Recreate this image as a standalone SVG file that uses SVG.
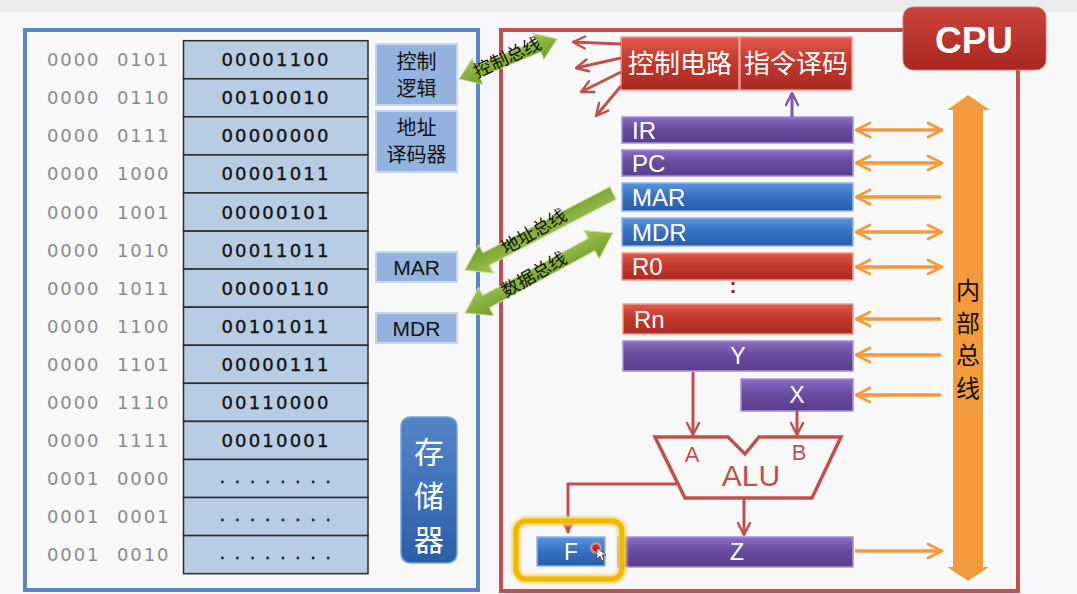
<svg xmlns="http://www.w3.org/2000/svg" width="1077" height="594" viewBox="0 0 1077 594">
  <defs>
    <style>
      .addr { font-family: "DejaVu Sans", sans-serif; font-size: 18px; fill: #8a8a8a; letter-spacing: 1.9px; }
      .val { font-family: "DejaVu Sans", sans-serif; font-size: 18px; fill: #111; stroke: #111; stroke-width: 0.35px; letter-spacing: 2.2px; text-anchor: middle; }
      .dots { font-family: "DejaVu Sans", sans-serif; font-size: 18px; fill: #111; stroke: #111; stroke-width: 0.3px; letter-spacing: 9.4px; text-anchor: middle; }
      .cell { fill: #b8cce4; stroke: #2a2a2a; stroke-width: 1.5; }
      .mbox { fill: #93b3de; stroke: #c3d6f0; stroke-width: 2; }
      .mtxt { font-family: "Liberation Sans", "Noto Sans CJK SC", sans-serif; font-size: 21px; fill: #111; text-anchor: middle; }
      .cjk { font-family: "Noto Sans CJK SC", sans-serif; font-size: 20px; }
      .reg { font-family: "Liberation Sans", sans-serif; font-size: 24px; fill: #fff; }
      .regc { font-family: "Liberation Sans", sans-serif; font-size: 23px; fill: #fff; text-anchor: middle; }
      .purple { fill: url(#gPurple); stroke: #a48fd6; stroke-width: 1.5; }
      .blue { fill: url(#gBlue); stroke: #8fb6ea; stroke-width: 1.5; }
      .red { fill: url(#gRed); stroke: #ec9a92; stroke-width: 1.5; }
      .green { fill: url(#gGreen); stroke: #c9df9c; stroke-width: 1; }
      .gtxt { font-family: "Noto Sans CJK SC", sans-serif; font-size: 18px; fill: #111; text-anchor: middle; }
      .obus { stroke: #f29a3c; stroke-width: 3.5; fill: none; }
      .rline { stroke: #c0504d; stroke-width: 3; fill: none; }
      .pline { stroke: #7a5aa8; stroke-width: 3; fill: none; }
      .vchar { font-family: "Noto Sans CJK SC", sans-serif; text-anchor: middle; }
    </style>
    <linearGradient id="gPurple" x1="0" y1="0" x2="0" y2="1">
      <stop offset="0" stop-color="#8b6fc4"/>
      <stop offset="0.45" stop-color="#6a4c9f"/>
      <stop offset="1" stop-color="#5a3d8d"/>
    </linearGradient>
    <linearGradient id="gBlue" x1="0" y1="0" x2="0" y2="1">
      <stop offset="0" stop-color="#5a95dc"/>
      <stop offset="0.45" stop-color="#3873c2"/>
      <stop offset="1" stop-color="#2a5ca8"/>
    </linearGradient>
    <linearGradient id="gRed" x1="0" y1="0" x2="0" y2="1">
      <stop offset="0" stop-color="#e0594b"/>
      <stop offset="0.45" stop-color="#c23a2e"/>
      <stop offset="1" stop-color="#a82a22"/>
    </linearGradient>
    <linearGradient id="gDarkRed" x1="0" y1="0" x2="0" y2="1">
      <stop offset="0" stop-color="#c9433a"/>
      <stop offset="1" stop-color="#a82822"/>
    </linearGradient>
    <linearGradient id="gStore" x1="0" y1="0" x2="0" y2="1">
      <stop offset="0" stop-color="#5386c8"/>
      <stop offset="1" stop-color="#2c5ea8"/>
    </linearGradient>
    <linearGradient id="gGreen" x1="0" y1="0" x2="0" y2="1">
      <stop offset="0" stop-color="#a2c653"/>
      <stop offset="1" stop-color="#6c9a2a"/>
    </linearGradient>
    <marker id="mOrange" viewBox="0 0 10 10" refX="9" refY="5" markerWidth="5" markerHeight="5" orient="auto-start-reverse" markerUnits="strokeWidth">
      <path d="M1,1 L9,5 L1,9" fill="none" stroke="#f29a3c" stroke-width="1.6" stroke-linecap="round" stroke-linejoin="round"/>
    </marker>
    <marker id="mRed" viewBox="0 0 10 10" refX="9" refY="5" markerWidth="5" markerHeight="5" orient="auto" markerUnits="strokeWidth">
      <path d="M1,1 L9,5 L1,9" fill="none" stroke="#c0504d" stroke-width="1.6" stroke-linecap="round" stroke-linejoin="round"/>
    </marker>
    <marker id="mRedFill" viewBox="0 0 10 10" refX="9" refY="5" markerWidth="4" markerHeight="4" orient="auto" markerUnits="strokeWidth">
      <path d="M0,0 L10,5 L0,10 Z" fill="#c0504d"/>
    </marker>
    <marker id="mPurple" viewBox="0 0 10 10" refX="9" refY="5" markerWidth="5" markerHeight="5" orient="auto" markerUnits="strokeWidth">
      <path d="M1,1 L9,5 L1,9" fill="none" stroke="#7a5aa8" stroke-width="1.6" stroke-linecap="round" stroke-linejoin="round"/>
    </marker>
    <filter id="soft" x="-20%" y="-20%" width="140%" height="140%">
      <feGaussianBlur stdDeviation="1.5"/>
    </filter>
  </defs>

  <!-- page background -->
  <rect x="0" y="0" width="1077" height="594" fill="#f7f7f9"/>
  <rect x="0" y="0" width="1077" height="12" fill="#ebebee"/>

  <!-- memory panel -->
  <g id="memory">
    <rect x="25" y="30" width="453" height="560" fill="#f8f8f9" stroke="#5a86c4" stroke-width="4"/>
    <g id="cells">
      <rect class="cell" x="183.5" y="40.7" width="184.5" height="38.07"/>
      <rect class="cell" x="183.5" y="78.8" width="184.5" height="38.07"/>
      <rect class="cell" x="183.5" y="116.8" width="184.5" height="38.07"/>
      <rect class="cell" x="183.5" y="154.9" width="184.5" height="38.07"/>
      <rect class="cell" x="183.5" y="193.0" width="184.5" height="38.07"/>
      <rect class="cell" x="183.5" y="231.1" width="184.5" height="38.07"/>
      <rect class="cell" x="183.5" y="269.1" width="184.5" height="38.07"/>
      <rect class="cell" x="183.5" y="307.2" width="184.5" height="38.07"/>
      <rect class="cell" x="183.5" y="345.3" width="184.5" height="38.07"/>
      <rect class="cell" x="183.5" y="383.3" width="184.5" height="38.07"/>
      <rect class="cell" x="183.5" y="421.4" width="184.5" height="38.07"/>
      <rect class="cell" x="183.5" y="459.5" width="184.5" height="38.07"/>
      <rect class="cell" x="183.5" y="497.5" width="184.5" height="38.07"/>
      <rect class="cell" x="183.5" y="535.6" width="184.5" height="38.07"/>
    </g>
    <g id="addresses">
      <text class="addr" x="47" y="66.2">0000</text><text class="addr" x="117" y="66.2">0101</text>
      <text class="addr" x="47" y="104.3">0000</text><text class="addr" x="117" y="104.3">0110</text>
      <text class="addr" x="47" y="142.4">0000</text><text class="addr" x="117" y="142.4">0111</text>
      <text class="addr" x="47" y="180.4">0000</text><text class="addr" x="117" y="180.4">1000</text>
      <text class="addr" x="47" y="218.5">0000</text><text class="addr" x="117" y="218.5">1001</text>
      <text class="addr" x="47" y="256.6">0000</text><text class="addr" x="117" y="256.6">1010</text>
      <text class="addr" x="47" y="294.6">0000</text><text class="addr" x="117" y="294.6">1011</text>
      <text class="addr" x="47" y="332.7">0000</text><text class="addr" x="117" y="332.7">1100</text>
      <text class="addr" x="47" y="370.8">0000</text><text class="addr" x="117" y="370.8">1101</text>
      <text class="addr" x="47" y="408.9">0000</text><text class="addr" x="117" y="408.9">1110</text>
      <text class="addr" x="47" y="446.9">0000</text><text class="addr" x="117" y="446.9">1111</text>
      <text class="addr" x="47" y="485.0">0001</text><text class="addr" x="117" y="485.0">0000</text>
      <text class="addr" x="47" y="523.1">0001</text><text class="addr" x="117" y="523.1">0001</text>
      <text class="addr" x="47" y="561.1">0001</text><text class="addr" x="117" y="561.1">0010</text>
    </g>
    <g id="values">
      <text class="val" x="276" y="66.2">00001100</text>
      <text class="val" x="276" y="104.3">00100010</text>
      <text class="val" x="276" y="142.4">00000000</text>
      <text class="val" x="276" y="180.4">00001011</text>
      <text class="val" x="276" y="218.5">00000101</text>
      <text class="val" x="276" y="256.6">00011011</text>
      <text class="val" x="276" y="294.6">00000110</text>
      <text class="val" x="276" y="332.7">00101011</text>
      <text class="val" x="276" y="370.8">00000111</text>
      <text class="val" x="276" y="408.9">00110000</text>
      <text class="val" x="276" y="446.9">00010001</text>
      <text class="dots" x="280" y="483.0">........</text>
      <text class="dots" x="280" y="521.1">........</text>
      <text class="dots" x="280" y="559.1">........</text>
    </g>
  </g>

  <g id="ctrl-logic">
    <rect class="mbox" x="376" y="44" width="81" height="61"/>
    <text class="mtxt cjk" x="416.5" y="69">控制</text>
    <text class="mtxt cjk" x="416.5" y="96">逻辑</text>
  </g>
  <g id="addr-decoder">
    <rect class="mbox" x="376" y="111" width="81" height="61"/>
    <text class="mtxt cjk" x="416.5" y="135">地址</text>
    <text class="mtxt cjk" x="416.5" y="162">译码器</text>
  </g>
  <g id="mem-mar">
    <rect class="mbox" x="376" y="252" width="81" height="30"/>
    <text class="mtxt" x="416.5" y="275">MAR</text>
  </g>
  <g id="mem-mdr">
    <rect class="mbox" x="376" y="313" width="81" height="30"/>
    <text class="mtxt" x="416.5" y="336">MDR</text>
  </g>
  <g id="storage-label">
    <rect x="401" y="417" width="56" height="146" rx="9" fill="url(#gStore)" stroke="#7ea3d8" stroke-width="1.5"/>
    <text class="vchar" font-size="30" fill="#fff"><tspan x="429" y="463">存</tspan><tspan x="429" y="507">储</tspan><tspan x="429" y="551">器</tspan></text>
  </g>

  <!-- CPU panel -->
  <g id="cpu">
    <rect x="501" y="30" width="517" height="561" fill="#f8f8f9" stroke="#c0504d" stroke-width="4"/>
    <rect x="903" y="7" width="143" height="63" rx="10" fill="url(#gDarkRed)" stroke="#d8766e" stroke-width="1"/>
    <text x="974" y="53" font-family="Liberation Sans, sans-serif" font-size="37" font-weight="bold" fill="#fff" text-anchor="middle">CPU</text>
  </g>

  <g id="ctrl-circuit">
    <rect class="red" x="621" y="37" width="118" height="53"/>
    <text x="680" y="73" font-family="Noto Sans CJK SC, sans-serif" font-size="26" fill="#fff" text-anchor="middle">控制电路</text>
  </g>
  <g id="instr-decoder">
    <rect class="red" x="740" y="37" width="112" height="53"/>
    <text x="796" y="73" font-family="Noto Sans CJK SC, sans-serif" font-size="26" fill="#fff" text-anchor="middle">指令译码</text>
  </g>

  <g id="reg-ir"><rect class="purple" x="622" y="117" width="231" height="26"/><text class="reg" x="632" y="139">IR</text></g>
  <g id="reg-pc"><rect class="purple" x="622" y="150" width="231" height="26"/><text class="reg" x="632" y="172">PC</text></g>
  <g id="reg-mar"><rect class="blue" x="622" y="183" width="231" height="28"/><text class="reg" x="632" y="206">MAR</text></g>
  <g id="reg-mdr"><rect class="blue" x="622" y="218" width="231" height="28"/><text class="reg" x="632" y="241">MDR</text></g>
  <g id="reg-r0"><rect class="red" x="622" y="253" width="231" height="27"/><text class="reg" x="632" y="275">R0</text></g>
  <g id="reg-dots">
    <rect x="731.5" y="282" width="3" height="3" fill="#a81e1e"/>
    <rect x="731.5" y="290" width="3" height="3" fill="#a81e1e"/>
  </g>
  <g id="reg-rn"><rect class="red" x="623" y="304" width="230" height="30"/><text class="reg" x="634" y="328">Rn</text></g>
  <g id="reg-y"><rect class="purple" x="623" y="341" width="230" height="30"/><text class="regc" x="738" y="364">Y</text></g>
  <g id="reg-x"><rect class="purple" x="741" y="379" width="112" height="32"/><text class="regc" x="797" y="403">X</text></g>
  <g id="reg-z"><rect class="purple" x="618" y="537" width="235" height="30"/><text class="regc" x="737" y="560">Z</text></g>

  <g id="alu">
    <polygon points="655,437 728,437 745,454 759,437 841,437 812,498 685,498" fill="#f8f8f9" stroke="#c0504d" stroke-width="3.5" stroke-linejoin="miter"/>
    <text x="692" y="462" font-family="Liberation Sans, sans-serif" font-size="22" fill="#c0504d" text-anchor="middle">A</text>
    <text x="799" y="460" font-family="Liberation Sans, sans-serif" font-size="22" fill="#c0504d" text-anchor="middle">B</text>
    <text x="751" y="486" font-family="Liberation Sans, sans-serif" font-size="30" fill="#c0504d" text-anchor="middle">ALU</text>
  </g>

  <g id="reg-f">
    <rect class="blue" x="537" y="537" width="68" height="29"/>
    <text class="regc" x="571" y="560">F</text>
  </g>

  <g id="internal-bus">
    <polygon points="968,95 990,110 983,110 983,567 989,567 968,581 947,567 953,567 953,110 947,110" fill="#fff" stroke="#fff" stroke-width="5" filter="url(#soft)"/>
    <polygon points="968,95 990,110 983,110 983,567 989,567 968,581 947,567 953,567 953,110 947,110" fill="#f29a3c"/>
    <text class="vchar" font-size="24" fill="#111"><tspan x="968" y="299">内</tspan><tspan x="968" y="332">部</tspan><tspan x="968" y="364">总</tspan><tspan x="968" y="397">线</tspan></text>
  </g>

  <!-- connectors -->
  <g id="connectors">
    <!-- control signals out of the control circuit -->
    <line class="rline" x1="621" y1="44" x2="573" y2="42" marker-end="url(#mRed)"/>
    <line class="rline" x1="621" y1="58" x2="576" y2="68" marker-end="url(#mRed)"/>
    <line class="rline" x1="621" y1="72" x2="581" y2="92" marker-end="url(#mRed)"/>
    <line class="rline" x1="621" y1="86" x2="596" y2="116" marker-end="url(#mRed)"/>
    <!-- IR to instruction decoder -->
    <line class="pline" x1="792" y1="117" x2="792" y2="93" marker-end="url(#mPurple)"/>
    <!-- registers and internal bus -->
    <line class="obus" x1="856" y1="130" x2="942" y2="130" marker-start="url(#mOrange)" marker-end="url(#mOrange)"/>
    <line class="obus" x1="856" y1="163" x2="942" y2="163" marker-start="url(#mOrange)" marker-end="url(#mOrange)"/>
    <line class="obus" x1="941" y1="197" x2="856" y2="197" marker-end="url(#mOrange)"/>
    <line class="obus" x1="856" y1="232" x2="942" y2="232" marker-start="url(#mOrange)" marker-end="url(#mOrange)"/>
    <line class="obus" x1="856" y1="267" x2="942" y2="267" marker-start="url(#mOrange)" marker-end="url(#mOrange)"/>
    <line class="obus" x1="941" y1="319" x2="856" y2="319" marker-end="url(#mOrange)"/>
    <line class="obus" x1="941" y1="355" x2="856" y2="355" marker-end="url(#mOrange)"/>
    <line class="obus" x1="941" y1="395" x2="856" y2="395" marker-end="url(#mOrange)"/>
    <line class="obus" x1="855" y1="551" x2="942" y2="551" marker-end="url(#mOrange)"/>
    <!-- ALU inputs and outputs -->
    <line class="rline" x1="693" y1="372" x2="693" y2="435" marker-end="url(#mRed)"/>
    <line class="rline" x1="797" y1="411" x2="797" y2="435" marker-end="url(#mRed)"/>
    <line class="rline" x1="744" y1="499" x2="744" y2="535" marker-end="url(#mRed)"/>
    <polyline class="rline" points="678,484 568,484 568,533" marker-end="url(#mRedFill)"/>

    <!-- system buses -->
    <g id="control-bus">
      <polygon class="green" transform="translate(459,79) rotate(-22.2)" points="0,0 20,-14 20,-6 86,-6 86,-14 106,0 86,14 86,6 20,6 20,14"/>
      <text class="gtxt" transform="translate(510,63) rotate(-25)" x="0" y="0">控制总线</text>
    </g>
    <g id="address-bus">
      <polygon class="green" transform="translate(613,193) rotate(152.5)" points="0,-7 143,-7 143,-16 167,0 143,16 143,7 0,7"/>
      <text class="gtxt" transform="translate(537,237) rotate(-30)" x="0" y="0">地址总线</text>
    </g>
    <g id="data-bus">
      <polygon class="green" transform="translate(465,313) rotate(-28.4)" points="0,0 24,-16 24,-7 144,-7 144,-16 168,0 144,16 144,7 24,7 24,16"/>
      <text class="gtxt" transform="translate(537,280) rotate(-30)" x="0" y="0">数据总线</text>
    </g>
  </g>

  <!-- highlight around F and pointer -->
  <g id="highlight">
    <rect x="516" y="521" width="106" height="58" rx="10" fill="none" stroke="#f7d873" stroke-width="9" filter="url(#soft)"/>
    <rect x="516" y="521" width="106" height="58" rx="10" fill="none" stroke="#f2b705" stroke-width="5"/>
    <circle cx="596" cy="548" r="6" fill="#f3a0a0" opacity="0.7"/>
    <circle cx="596" cy="548" r="3.5" fill="#e01b1b"/>
    <path d="M597,548 L597,559 L600,556 L602,561 L604,560 L602,555 L606,555 Z" fill="#fff" stroke="#333" stroke-width="0.7"/>
  </g>
</svg>
